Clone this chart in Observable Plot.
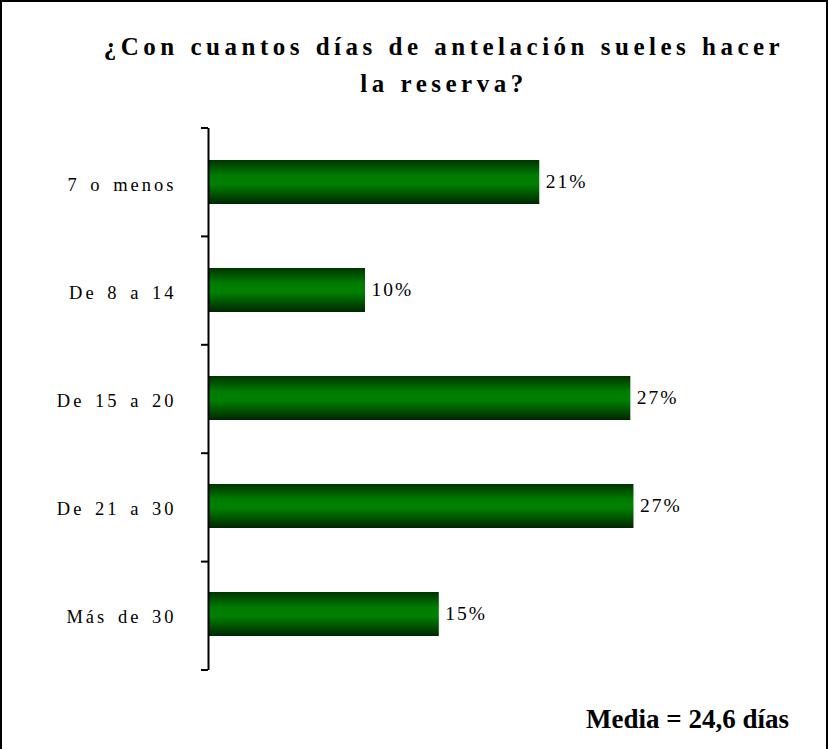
<!DOCTYPE html>
<html>
<head>
<meta charset="utf-8">
<script src="https://cdn.jsdelivr.net/npm/d3@7"></script>
<script src="https://cdn.jsdelivr.net/npm/@observablehq/plot@0.6"></script>
<style>
  html, body { margin: 0; padding: 0; background: #fff; }
  #wrap { position: relative; width: 828px; height: 749px; overflow: hidden; background: #fff; }
  #frame { position: absolute; left: 0; top: 0; width: 828px; height: 760px; box-sizing: border-box;
           border: 2px solid #000; pointer-events: none; }
  #title { height: 110px; box-sizing: border-box; padding-top: 28px; padding-left: 60px;
           font-family: "Liberation Serif", "Times New Roman", serif; font-weight: bold;
           font-size: 25px; line-height: 37px; letter-spacing: 4.5px; word-spacing: 1px;
           text-align: center; color: #000; }
  #caption { position: absolute; right: 39px; top: 704px;
             font-family: "Liberation Serif", "Times New Roman", serif; font-weight: bold;
             font-size: 27px; line-height: normal; color: #000; }
  svg .cat text { letter-spacing: 3px; word-spacing: 3px; }
  svg .val text { letter-spacing: 2px; }
</style>
</head>
<body>
<div id="wrap">
  <div id="title">¿Con cuantos días de antelación sueles hacer<br>la reserva?</div>
  <div id="chart"></div>
  <div id="caption">Media = 24,6 días</div>
  <div id="frame"></div>
</div>
<script>
const categories = ["7 o menos", "De 8 a 14", "De 15 a 20", "De 21 a 30", "Más de 30"];
const values = [21.1, 10.0, 26.9, 27.1, 14.7];
const valueLabels = ["21%", "10%", "27%", "27%", "15%"];

const data = categories.map((c, i) => ({cat: c, v: values[i], label: valueLabels[i]}));

const gradient = () => {
  const ns = "http://www.w3.org/2000/svg";
  const defs = document.createElementNS(ns, "defs");
  defs.innerHTML = `<linearGradient id="barGrad" x1="0" y1="0" x2="0" y2="1">
      <stop offset="0%" stop-color="#003300"/>
      <stop offset="35%" stop-color="#007c00"/>
      <stop offset="55%" stop-color="#008000"/>
      <stop offset="100%" stop-color="#002600"/>
    </linearGradient>`;
  return defs;
};

const boundaryTicks = (index, scales, values, dims) => {
  const ns = "http://www.w3.org/2000/svg";
  const g = document.createElementNS(ns, "g");
  const top = dims.marginTop, bottom = dims.height - dims.marginBottom;
  const n = categories.length;
  const step = (bottom - top) / n;
  const x0 = scales.x(0);
  for (let i = 0; i <= n; i++) {
    const y = top + i * step;
    const l = document.createElementNS(ns, "line");
    l.setAttribute("x1", x0 - 7); l.setAttribute("x2", x0);
    l.setAttribute("y1", y); l.setAttribute("y2", y);
    l.setAttribute("stroke", "#000"); l.setAttribute("stroke-width", 2);
    g.appendChild(l);
  }
  return g;
};

const chart = Plot.plot({
  width: 828,
  height: 639,
  marginTop: 18,
  marginBottom: 79,
  marginLeft: 208,
  marginRight: 149,
  style: {fontFamily: "'Liberation Serif', 'Times New Roman', serif", fontSize: "18.5px", color: "#000", background: "transparent"},
  x: {domain: [0, 30], axis: null},
  y: {domain: categories, paddingInner: 0.594, paddingOuter: 0.297, label: null},
  marks: [
    gradient,
    Plot.barX(data, {x: "v", y: "cat", fill: "url(#barGrad)", insetTop: -1, insetBottom: 1}),
    Plot.axisY({className: "cat", tickSize: 0, tickPadding: 32, fontSize: 18.5, fill: "#000", label: null, dy: 2}),
    Plot.ruleX([0], {stroke: "#000", strokeWidth: 2}),
    boundaryTicks,
    Plot.text(data, {x: "v", y: "cat", text: "label", className: "val", textAnchor: "start", dx: 6, dy: -2, fontSize: 19.5, fill: "#000"})
  ]
});
document.getElementById("chart").appendChild(chart);
</script>
</body>
</html>
